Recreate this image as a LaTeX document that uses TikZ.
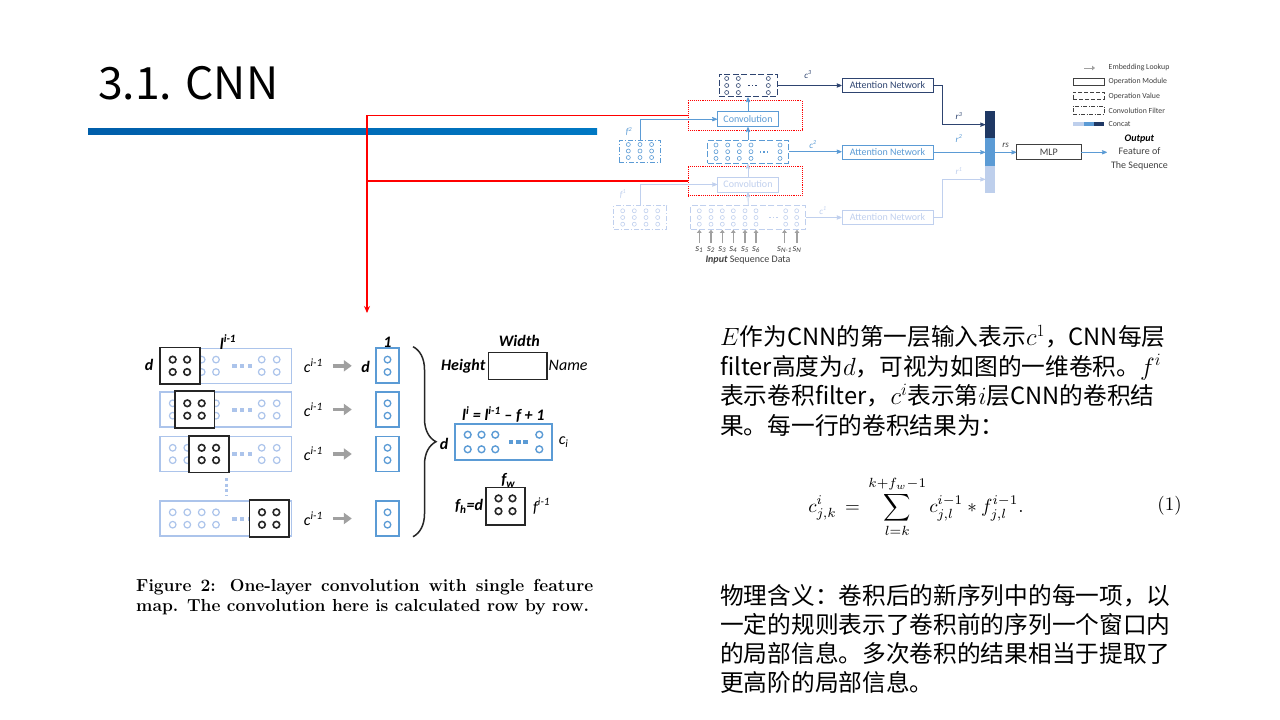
\documentclass[tikz,border=0pt]{standalone}
\usepackage{fontspec}
\newfontfamily\carl{Carlito}
\newfontfamily\cjk{Noto Sans CJK SC}
\usetikzlibrary{positioning}
\usetikzlibrary{arrows,arrows.meta,decorations.pathreplacing}
\definecolor{navy}{RGB}{46,68,112}
\definecolor{midblue}{RGB}{91,155,213}
\definecolor{paleblue}{RGB}{192,208,238}
\definecolor{catdark}{RGB}{31,56,100}
\definecolor{catmid}{RGB}{91,155,213}
\definecolor{catlight}{RGB}{190,207,236}
\definecolor{seqblue}{RGB}{172,196,235}
\definecolor{embgray}{RGB}{160,160,160}
\definecolor{inkgray}{RGB}{64,64,64}
\definecolor{barleft}{RGB}{0,94,170}
\definecolor{barright}{RGB}{0,120,195}
\tikzset{
	>=stealth',
	opbox/.style={
		rectangle,
		draw, line width=0.9pt,
		inner sep=0pt,
		minimum width=61pt,
		minimum height=15pt,
		font=\carl\fontsize{10}{12}\selectfont},
	valbox/.style={
		rectangle,
		draw, line width=1pt,
		dash pattern=on 6pt off 2.5pt,
		inner sep=0pt},
	filtbox/.style={
		rectangle,
		draw, line width=1pt,
		dash pattern=on 5pt off 2pt on 1.2pt off 2pt,
		inner sep=0pt},
	redbox/.style={
		rectangle,
		draw=red, line width=0.9pt, densely dotted,
		minimum width=114pt,
		minimum height=29.6pt},
	catseg/.style={rectangle, inner sep=0pt, minimum width=9.4pt},
	link/.style={->, line width=0.8pt},
	embed/.style={-{Triangle[length=3pt,width=4.5pt]}, line width=1.3pt, embgray},
	smalllab/.style={font=\carl\itshape\fontsize{9}{10}\selectfont, inner sep=0pt},
	legtext/.style={font=\carl\fontsize{7.8}{9}\selectfont, text=inkgray, anchor=west, inner sep=0pt},
	seqrow/.style={rectangle, draw=seqblue, line width=1.4pt, minimum width=131.7pt, minimum height=35pt, inner sep=0pt},
	window/.style={rectangle, draw=black!85, fill=white, line width=1.7pt, minimum width=39.7pt, minimum height=36.7pt, inner sep=0pt},
	outcol/.style={rectangle, draw=midblue, line width=1.8pt, minimum width=23.6pt, minimum height=35pt, inner sep=0pt},
	rowarrow/.style={-{Triangle[length=8pt,width=11pt]}, line width=3.4pt, embgray, shorten <=9pt, shorten >=23pt},
	bigbf/.style={font=\carl\bfseries\itshape\fontsize{16}{18}\selectfont, inner sep=1pt},
	bigit/.style={font=\carl\itshape\fontsize{16}{18}\selectfont, inner sep=1pt},
	zh/.style={font=\cjk\fontsize{23.7}{29}\selectfont, anchor=base west, inner sep=0pt},
	decoration={brace, amplitude=23pt},
	curly/.style={decorate},
}

\begin{document}
\begin{tikzpicture}[x=1pt,y=-1pt]
	\useasboundingbox (0,0) rectangle (1280,720);
	\fill[white] (0,0) rectangle (1280,720);

	% slide title
	\node[anchor=base west, inner sep=0pt, font=\cjk\fontsize{44.5}{50}\selectfont] (title) at (98,99.5) {3.1. CNN};
	\fill[left color=barleft, right color=barright] (88,128) rectangle (597,134);

	% layered CNN
	\node[valbox, draw=navy, minimum width=58pt, minimum height=22.7pt] (c3) at (748,85.5) {};
	\node[redbox] (redB) at (745,115.5) {};
	\node[opbox, draw=midblue, text=midblue] (convB) at (748,119.2) {Convolution};
	\node[valbox, draw=midblue, minimum width=80.6pt, minimum height=23.3pt] (c2) at (748,151.7) {};
	\node[filtbox, draw=midblue, minimum width=41.7pt, minimum height=22pt] (f2) at (640,151) {};
	\node[redbox] (redA) at (745,181) {};
	\node[opbox, draw=paleblue, text=paleblue] (convA) at (748,184.5) {Convolution};
	\node[valbox, draw=paleblue, minimum width=115pt, minimum height=23.6pt] (c1) at (748.2,217.5) {};
	\node[filtbox, draw=paleblue, minimum width=52.7pt, minimum height=23.6pt] (f1) at (640.3,217.5) {};

	\foreach \xx in {726.7,738.3,768.3} \foreach \yy in {78.5,85.5,92.5}
		\draw[navy, line width=0.6pt] (\xx,\yy) circle (2);
	\foreach \xx in {748.8,752.4,756} \fill[navy] (\xx-0.8,84.7) rectangle (\xx+0.8,86.3);
	\foreach \xx in {716,727.7,739.3,751,780} \foreach \yy in {145,151.7,158.4}
		\draw[midblue, line width=0.6pt] (\xx,\yy) circle (2);
	\foreach \xx in {760.5,764,767.5} \fill[midblue] (\xx-0.8,150.9) rectangle (\xx+0.8,152.5);
	\foreach \xx in {628.3,640,651.6} \foreach \yy in {144.5,151,157.5}
		\draw[midblue, line width=0.6pt] (\xx,\yy) circle (2);
	\foreach \xx in {699.3,711,722.3,733.3,745,756,785.7,796.7} \foreach \yy in {210.8,217.5,224.2}
		\draw[paleblue, line width=0.6pt] (\xx,\yy) circle (2);
	\foreach \xx in {769.7,773.3,777} \fill[paleblue] (\xx-0.8,216.7) rectangle (\xx+0.8,218.3);
	\foreach \xx in {622.7,634.3,646,657.7} \foreach \yy in {210.8,217.5,224.2}
		\draw[paleblue, line width=0.6pt] (\xx,\yy) circle (2);

	\node[smalllab, text=navy] (c3lab) at (808,74.5) {c\textsuperscript{3}};
	\node[smalllab, text=midblue] (c2lab) at (813,144.5) {c\textsuperscript{2}};
	\node[smalllab, text=paleblue] (c1lab) at (823,210.5) {c\textsuperscript{1}};
	\node[smalllab, text=midblue] (f2lab) at (629,131.5) {f\textsuperscript{2}};
	\node[smalllab, text=paleblue] (f1lab) at (623,194) {f\textsuperscript{1}};

	\node[opbox, draw=navy, text=navy, minimum width=91pt, minimum height=14.3pt] (att3) at (887.5,85.5) {Attention Network};
	\node[opbox, draw=midblue, text=midblue, minimum width=91pt, minimum height=14.3pt] (att2) at (887.5,152.3) {Attention Network};
	\node[opbox, draw=paleblue, text=paleblue, minimum width=91pt, minimum height=14.3pt] (att1) at (887.5,217.5) {Attention Network};

	\draw[link, navy] (c3.east) -- (att3.west);
	\draw[link, midblue] (convB.north) -- (c3.south);
	\draw[link, midblue] (c2.north) -- (convB.south);
	\draw[link, midblue] (f2.north) |- (convB.west);
	\draw[link, midblue] (c2.east) -- (c2.east -| att2.west);
	\draw[link, paleblue] (convA.north) -- (c2.south);
	\draw[link, paleblue] (c1.north) -- (convA.south);
	\draw[link, paleblue] (f1.north) |- (convA.west);
	\draw[link, paleblue] (c1.east) -- (att1.west);

	% concat and output
	\node[catseg, fill=catdark, minimum height=27.3pt] (cat3) at (990,124.65) {};
	\node[catseg, fill=catmid, minimum height=27.7pt] (cat2) at (990,152.15) {};
	\node[catseg, fill=catlight, minimum height=26.7pt] (cat1) at (990,179.35) {};
	\draw[link, navy] (att3.east) -- ++(8.7,0) |- (cat3.west);
	\draw[link, midblue] (att2.east) -- (att2.east -| cat2.west);
	\draw[link, paleblue] (att1.east) -- ++(8.7,0) |- (cat1.west);
	\node[smalllab, text=navy] (r3lab) at (959,116) {r\textsuperscript{3}};
	\node[smalllab, text=midblue] (r2lab) at (959,138.5) {r\textsuperscript{2}};
	\node[smalllab, text=paleblue] (r1lab) at (959,171) {r\textsuperscript{1}};

	\node[opbox, draw=inkgray, text=inkgray, minimum width=64.3pt] (mlp) at (1048.8,152.3) {MLP};
	\draw[link, midblue] (cat2.east |- mlp.west) -- (mlp.west) node[midway, above=4pt, smalllab, text=inkgray] (rslab) {rs};
	\node[font=\carl\fontsize{10}{13.2}\selectfont, text=inkgray, align=center, inner sep=1pt] (outtxt) at (1139.5,152.5) {\textcolor{black}{\textbf{\textit{Output}}}\\Feature of\\The Sequence};
	\draw[link, midblue, shorten >=3pt] (mlp.east) -- (mlp.east -| outtxt.west);

	% input sequence
	\foreach \n/\xx/\t in {1/699.3/1,2/711/2,3/722.3/3,4/733.3/4,5/745/5,6/756/6,7/784.5/N-1,8/797/N}{
		\node[smalllab, font=\carl\itshape\fontsize{10}{12}\selectfont, text=inkgray] (s\n) at (\xx,249.5) {s\textsubscript{\t}};
		\draw[embed, shorten <=3pt] (s\n.north) -- (s\n.north |- c1.south);
	}
	\node[font=\carl\fontsize{10}{12}\selectfont, text=inkgray, inner sep=0pt] (inlab) at (748,260.5) {\textbf{\textit{Input}} Sequence Data};

	% legend
	\coordinate (lga) at (1084,68);
	\coordinate (lgb) at (1095,68);
	\draw[embed, line width=1pt] (lga) -- (lgb);
	\node[legtext] (lgt1) at (1108.5,67.5) {Embedding Lookup};
	\node[rectangle, draw=inkgray, line width=0.7pt, minimum width=31pt, minimum height=7pt, inner sep=0pt] (lgmod) at (1088.7,81.7) {};
	\node[legtext] (lgt2) at (1108.5,81.5) {Operation Module};
	\node[valbox, draw=inkgray, line width=0.7pt, dash pattern=on 4pt off 2pt, minimum width=31pt, minimum height=7pt] (lgval) at (1088.7,95.7) {};
	\node[legtext] (lgt3) at (1108.5,96.3) {Operation Value};
	\node[filtbox, draw=inkgray, line width=0.7pt, dash pattern=on 4pt off 1.5pt on 1pt off 1.5pt, minimum width=31pt, minimum height=8pt] (lgfil) at (1088.7,110) {};
	\node[legtext] (lgt4) at (1108.5,110.7) {Convolution Filter};
	\fill[catlight] (1073.3,122.3) rectangle (1083.5,125.5);
	\fill[catmid] (1083.5,122.3) rectangle (1093.8,125.5);
	\fill[catdark] (1093.8,122.3) rectangle (1104,125.5);
	\node[legtext] (lgt5) at (1108.5,124) {Concat};

	% link to the figure below
	\coordinate (redtip) at (367,313);
	\draw[red, line width=1.3pt, -{Stealth[length=7pt,width=6pt]}] (redB.west) -| (redtip);
	\draw[red, line width=1.3pt] (redA.west) -- (redA.west -| redtip);

	% one-layer convolution, row by row
	\foreach \r/\yy/\wx in {1/365.8/179.9,2/409.5/194.5,3/454/208.9,4/518.5/269.2}{
		\node[seqrow] (seq\r) at (225.9,\yy) {};
		\foreach \xx in {172.7,187.3,201.7,216,261.7,276.7}
			\draw[seqblue, line width=1.2pt] (\xx,\yy-6.2) circle (3.3) (\xx,\yy+6.2) circle (3.3);
		\foreach \xx in {234.3,242,249.7}
			\fill[seqblue] (\xx-2.2,\yy-2) rectangle (\xx+2.2,\yy+2);
		\node[window] (win\r) at (\wx,\yy) {};
		\foreach \xx in {-7.2,7.2}
			\draw[black!85, line width=1.6pt] (\wx+\xx,\yy-6.2) circle (3.3) (\wx+\xx,\yy+6.2) circle (3.3);
		\node[bigit] (cprev\r) at (313.3,\yy) {c\textsuperscript{i-1}};
		\node[outcol] (out\r) at (387.5,\yy) {};
		\draw[midblue, line width=1.3pt] (387.5,\yy-6.2) circle (3.3) (387.5,\yy+6.2) circle (3.3);
		\draw[rowarrow] (cprev\r.east) -- (out\r.west);
	}
	\draw[seqblue, line width=3pt, dash pattern=on 3pt off 2.6pt] (226.7,478) -- (226.7,496);

	\node[bigbf] (lprev) at (228,342) {l\textsuperscript{i-1}};
	\node[bigbf] (onelab) at (387.5,342) {1};
	\node[bigbf] (dleft) at (149,365) {d};
	\node[bigbf] (dmid) at (365.5,367) {d};
	\coordinate (brtop) at (413,346.7);
	\coordinate (brbot) at (413,536.7);
	\draw[curly, line width=1.5pt, black!85] (brtop) -- (brbot);
	\node[bigbf] (dright) at (444,443.5) {d};

	\node[rectangle, draw=black!85, line width=1.6pt, minimum width=58.4pt, minimum height=27pt, inner sep=0pt] (namebox) at (517.5,365.8) {};
	\node[bigbf] (widthlab) at (519.3,340.5) {Width};
	\node[bigbf, left=1pt of namebox] (heightlab) {Height};
	\node[bigit, right=0pt of namebox] (namelab) {Name};

	\node[bigbf] (lform) at (503.3,414.5) {l\textsuperscript{i} = l\textsuperscript{i-1} \textendash\ f + 1};
	\node[outcol, minimum width=96.7pt, minimum height=36pt] (cibox) at (503.3,442) {};
	\foreach \xx in {467.7,481.5,495.3,539.3}
		\draw[midblue, line width=1.4pt] (\xx,434.7) circle (3.4) (\xx,449.3) circle (3.4);
	\foreach \xx in {511,518.3,525.6} \fill[midblue] (\xx-2.2,440) rectangle (\xx+2.2,444);
	\node[bigit, right=5pt of cibox] (cilab) {c\textsubscript{i}};

	\node[bigbf] (fwlab) at (508.3,480.5) {f\textsubscript{w}};
	\node[window, minimum width=39pt, minimum height=37.7pt] (fbox) at (505.5,506.2) {};
	\foreach \xx in {498.5,512.5}
		\draw[black!85, line width=1.6pt] (\xx,498.4) circle (3.3) (\xx,511.2) circle (3.3);
	\node[bigbf, left=1pt of fbox] (fhlab) {f\textsubscript{h}=d};
	\node[bigit, right=6pt of fbox] (fprevlab) {f\textsuperscript{i-1}};

	\node[anchor=north west, inner sep=0pt, text width=457pt, align=justify, font=\fontsize{17.4}{20.5}\selectfont\bfseries] (caption) at (136,579) {Figure 2: One-layer convolution with single feature\linebreak map. The convolution here is calculated row by row.};

	% text on the right
	\node[zh] (pa) at (720,345.5) {$E$作为CNN的第一层输入表示$c^1$，CNN每层};
	\node[zh] (pb) at (720,375) {filter高度为$d$，可视为如图的一维卷积。$f^i$};
	\node[zh] (pc) at (720,404.5) {表示卷积filter，$c^i$表示第$i$层CNN的卷积结};
	\node[zh] (pd) at (720,434) {果。每一行的卷积结果为：};
	\node[scale=1.9, transform shape, inner sep=0pt] (eq) at (916,507) {$\displaystyle c^{i}_{j,k} \,=\, \sum_{l=k}^{k+f_w-1} c^{i-1}_{j,l} * f^{i-1}_{j,l}.$};
	\node[scale=1.9, transform shape, inner sep=0pt] (eqnum) at (1169.5,506) {(1)};
	\node[zh] (qa) at (720,604) {物理含义：卷积后的新序列中的每一项，以};
	\node[zh] (qb) at (720,633) {一定的规则表示了卷积前的序列一个窗口内};
	\node[zh] (qc) at (720,662) {的局部信息。多次卷积的结果相当于提取了};
	\node[zh] (qd) at (720,691) {更高阶的局部信息。};
\end{tikzpicture}
\end{document}
